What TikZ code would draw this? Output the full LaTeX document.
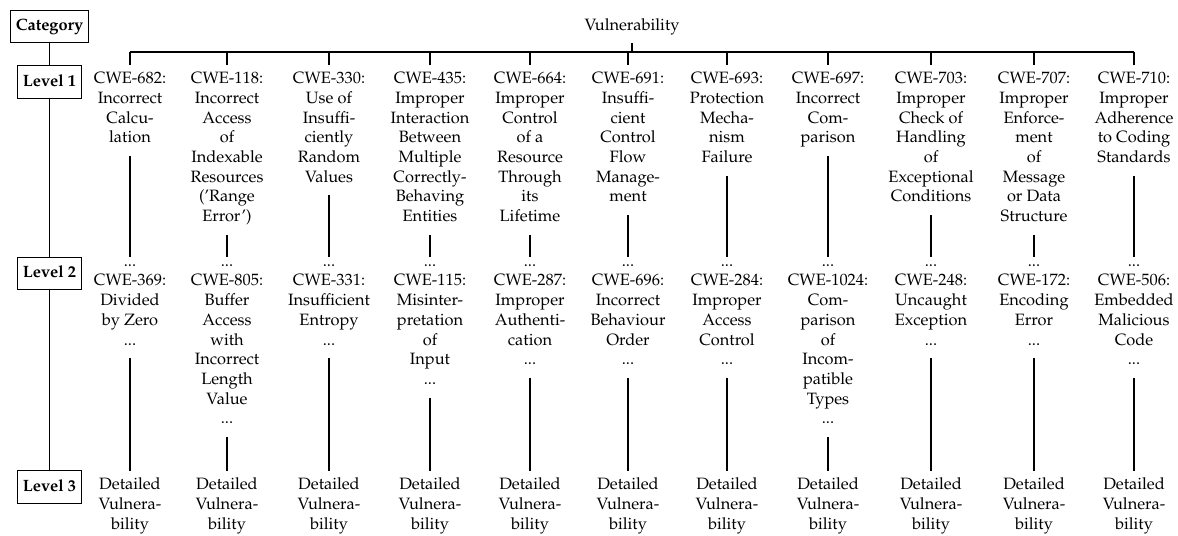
\documentclass[tikz,border=0pt]{standalone}
\usepackage[T1]{fontenc}
\usepackage{mathpazo}
\begin{document}
\begin{tikzpicture}[x=0.6098pt, y=-0.6098pt,
  txt/.style={font=\fontsize{10}{12}\selectfont},
  cell/.style={txt, align=center, inner xsep=1pt, inner ysep=4.3pt,
    execute at begin node=\strut, execute at end node=\strut},
  lvl/.style={txt, draw, line width=0.7pt, inner xsep=3.33pt, inner ysep=4pt,
    font=\fontsize{10}{12}\selectfont\bfseries, execute at begin node=\strut},
  link/.style={line width=0.7pt}]
\useasboundingbox (0,0) rectangle (1178,535);

% level markers on the left spine
\node[lvl, anchor=base] (cat) at (49.5,30.4) {Category};
\node[lvl, anchor=base] (lv1) at (49.5,86) {Level 1};
\node[lvl, anchor=base] (lv2) at (49.5,277.4) {Level 2};
\node[lvl, anchor=base] (lv3) at (49.5,491) {Level 3};
\draw[link] (cat) -- (lv1) -- (lv2) -- (lv3);

% root
\node[cell, anchor=base] (vul) at (632,30) {Vulnerability};
\coordinate (bar) at (632,52);

% level 1
\node[cell, anchor=north] (t1) at (130,65) {CWE-682:\\Incorrect\\Calcu-\\lation};
\node[cell, anchor=north] (t2) at (227,65) {CWE-118:\\Incorrect\\Access\\of\\Indexable\\Resources\\('Range\\Error')};
\node[cell, anchor=north] (t3) at (329,65) {CWE-330:\\Use of\\Insuffi-\\ciently\\Random\\Values};
\node[cell, anchor=north] (t4) at (430,65) {CWE-435:\\Improper\\Interaction\\Between\\Multiple\\Correctly-\\Behaving\\Entities};
\node[cell, anchor=north] (t5) at (530,65) {CWE-664:\\Improper\\Control\\of a\\Resource\\Through\\its\\Lifetime};
\node[cell, anchor=north] (t6) at (628,65) {CWE-691:\\Insuffi-\\cient\\Control\\Flow\\Manage-\\ment};
\node[cell, anchor=north] (t7) at (727,65) {CWE-693:\\Protection\\Mecha-\\nism\\Failure};
\node[cell, anchor=north] (t8) at (828,65) {CWE-697:\\Incorrect\\Com-\\parison};
\node[cell, anchor=north] (t9) at (931,65) {CWE-703:\\Improper\\Check of\\Handling\\of\\Exceptional\\Conditions};
\node[cell, anchor=north] (t10) at (1034,65) {CWE-707:\\Improper\\Enforce-\\ment\\of\\Message\\or Data\\Structure};
\node[cell, anchor=north] (t11) at (1134,65) {CWE-710:\\Improper\\Adherence\\to Coding\\Standards};

% level 2
\node[cell, anchor=north] (m1) at (130,257) {...\\CWE-369:\\Divided\\by Zero\\...};
\node[cell, anchor=north] (m2) at (227,257) {...\\CWE-805:\\Buffer\\Access\\with\\Incorrect\\Length\\Value\\...};
\node[cell, anchor=north] (m3) at (329,257) {...\\CWE-331:\\Insufficient\\Entropy\\...};
\node[cell, anchor=north] (m4) at (430,257) {...\\CWE-115:\\Misinter-\\pretation\\of\\Input\\...};
\node[cell, anchor=north] (m5) at (530,257) {...\\CWE-287:\\Improper\\Authenti-\\cation\\...};
\node[cell, anchor=north] (m6) at (628,257) {...\\CWE-696:\\Incorrect\\Behaviour\\Order\\...};
\node[cell, anchor=north] (m7) at (727,257) {...\\CWE-284:\\Improper\\Access\\Control\\...};
\node[cell, anchor=north] (m8) at (828,257) {...\\CWE-1024:\\Com-\\parison\\of\\Incom-\\patible\\Types\\...};
\node[cell, anchor=north] (m9) at (931,257) {...\\CWE-248:\\Uncaught\\Exception\\...};
\node[cell, anchor=north] (m10) at (1034,257) {...\\CWE-172:\\Encoding\\Error\\...};
\node[cell, anchor=north] (m11) at (1134,257) {...\\CWE-506:\\Embedded\\Malicious\\Code\\...};

% level 3
\foreach \i/\x in {1/130,2/227,3/329,4/430,5/530,6/628,7/727,8/828,9/931,10/1034,11/1134}
  \node[cell, anchor=north] (b\i) at (\x,470.5) {Detailed\\Vulnera-\\bility};

% connectors
\draw[link] (vul.south) -- (bar);
\draw[link] (bar -| t1.north) -- (bar -| t11.north);
\foreach \i in {1,...,11} {
  \draw[link] (bar -| t\i.north) -- (t\i.north);
  \draw[link] (t\i.south) -- (m\i.north);
  \draw[link] (m\i.south) -- (b\i.north);
}
\end{tikzpicture}
\end{document}
